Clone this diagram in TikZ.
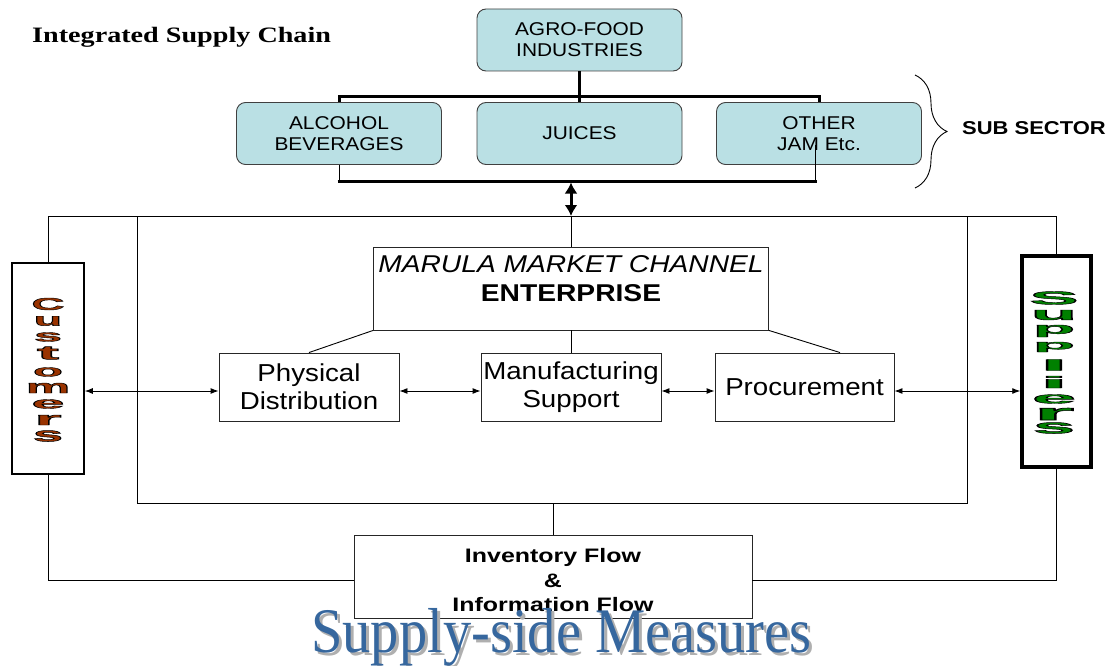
\documentclass[tikz,border=0pt]{standalone}
\usepackage{fontspec}
\setmainfont{Liberation Serif}
\newfontfamily\boxfont{Liberation Sans}[FakeStretch=1.13]
\newfontfamily\subfont{Liberation Sans}[FakeStretch=1.18]
\newfontfamily\mmfont{Liberation Sans}[FakeStretch=1.16]
\newfontfamily\invfont{Liberation Sans}[FakeStretch=1.28]
\newfontfamily\titlefont{Liberation Serif}[FakeStretch=1.28]
\newfontfamily\bigfont{Liberation Serif}[FakeStretch=0.89]
\newfontfamily\letterfont{Liberation Sans Bold}[FakeBold=2.5]
\newcommand\blackstroke{\special{pdf:literal direct 0 0 0 RG}}
\usetikzlibrary{arrows.meta,decorations.pathreplacing}
\definecolor{subfill}{RGB}{186,224,228}
\definecolor{custcol}{RGB}{153,51,0}
\definecolor{supcol}{RGB}{0,128,0}
\definecolor{bigblue}{RGB}{54,103,158}
\definecolor{shadowgray}{RGB}{175,175,175}
\begin{document}
\begin{tikzpicture}[x=1pt,y=-1pt,
  subbox/.style={draw=black!75, fill=subfill, rounded corners=9pt, line width=0.9pt,
    minimum width=205pt, minimum height=62pt, inner sep=0pt, align=center,
    font=\boxfont\fontsize{18.5}{21}\selectfont},
  pbox/.style={draw=black!85, line width=0.9pt, inner sep=0pt, align=center, fill=white},
  tree/.style={line width=3pt},
  conn/.style={line width=0.9pt},
  biarrow/.style={conn, {Latex[length=8pt,width=6pt]}-{Latex[length=8pt,width=6pt]}},
  letter/.style={inner sep=0pt, font=\letterfont\fontsize{20}{20}\selectfont},
  txt/.style={inner sep=0pt, align=center}
]
\useasboundingbox (0,0) rectangle (1113,666);

% title
\node[txt, anchor=base west, font=\titlefont\bfseries\fontsize{22}{24}\selectfont] (title) at (32,43) {Integrated Supply Chain};

% top tree
\node[subbox] (agro) at (579.5,40) {AGRO-FOOD\\INDUSTRIES};
\node[subbox] (alc) at (339,133.5) {ALCOHOL\\BEVERAGES};
\node[subbox] (juice) at (579.5,133.5) {JUICES};
\node[subbox] (oth) at (819,133.5) {OTHER\\JAM Etc.};
\draw[tree] (agro.south) -- (juice.north);
\draw[tree] (alc.north) -- ++(0,-6) -| (oth.north);
\coordinate (bb) at (339,181);
\coordinate (bbr) at (815,181);
\coordinate (othleg) at (815,145);
\draw[conn] (alc.south) -- (bb);
\draw[conn] (othleg) -- (bbr);
\draw[tree] ([xshift=-1.5pt]bb) -- ([xshift=1.5pt]bbr);

% brace
\coordinate (brT) at (915,75);
\coordinate (brB) at (915,188);
\draw[conn, decorate, decoration={brace, amplitude=32pt}] (brT) -- (brB);
\node[txt, anchor=base west, font=\subfont\bfseries\fontsize{18.6}{20}\selectfont] (subsec) at (962,135) {SUB SECTOR};

% double arrow
\coordinate (arTop) at (571,182.5);
\coordinate (arBot) at (571,216);
\draw[line width=3pt, {Latex[length=11pt,width=13pt]}-{Latex[length=11pt,width=13pt]}] (arTop) -- (arBot);

% frame
\node[draw, conn, inner sep=0pt, minimum width=830pt, minimum height=287pt] (frame) at (552,359.5) {};

% side boxes
\node[draw, line width=1.6pt, inner sep=0pt, minimum width=72pt, minimum height=211pt] (cust) at (48,368.5) {};
\node[draw, line width=3.5pt, inner sep=0pt, minimum width=69pt, minimum height=211pt] (sup) at (1056.5,361.5) {};
\draw[conn] (cust.north) |- (arBot) -| (sup.north);

\foreach \l/\w/\h/\y [count=\i] in {C/33/12/304, u/28/9.5/321, s/28/9/337, t/22/13/353, o/30/9/372, m/44/10/388, e/33/9/404, r/27/10/420, s/30/11/436}
  \node[letter, text=custcol] (c\i) at (48,\y) {\resizebox*{\w pt}{\h pt}{\blackstroke\l}};
\foreach \l/\w/\h/\y [count=\i] in {S/49/13/298, u/46/10/315, p/42/12/331, p/42/10/347, l/28/11/365, i/28/12/382, e/44/9/399, r/40/12/414, s/42/11/428}
  \node[letter, text=supcol] (s\i) at (1054,\y) {\resizebox*{\w pt}{\h pt}{\blackstroke\l}};

% enterprise
\node[pbox, minimum width=395pt, minimum height=83pt] (mm) at (571,288.5) {};
\node[txt, font=\mmfont\fontsize{24.3}{29}\selectfont] (mmt) at (571,279) {\itshape MARULA MARKET CHANNEL\\\bfseries ENTERPRISE};
\draw[conn] (arBot) -- (mm.north);

\node[pbox, minimum width=180pt, minimum height=68pt, font=\boxfont\fontsize{24.5}{28}\selectfont] (pd) at (309,387) {Physical\\Distribution};
\node[pbox, minimum width=180pt, minimum height=68pt, font=\boxfont\fontsize{24.5}{28}\selectfont] (ms) at (571,387) {Manufacturing\\Support};
\node[pbox, minimum width=179pt, minimum height=68pt, font=\boxfont\fontsize{24.5}{28}\selectfont] (pr) at (804.5,387) {Procurement};

\draw[conn] (mm.south west) -- (pd.north);
\draw[conn] (mm.south) -- (ms.north);
\draw[conn] (mm.south east) -- ([xshift=35.5pt]pr.north);

\coordinate (rowL) at ([yshift=-4pt]pd.west);
\draw[biarrow] (cust.east |- rowL) -- (rowL);
\draw[biarrow] ([yshift=-4pt]pd.east) -- ([yshift=-4pt]ms.west);
\draw[biarrow] ([yshift=-4pt]ms.east) -- ([yshift=-4pt]pr.west);
\draw[biarrow] ([yshift=-4pt]pr.east) -- (sup.west |- rowL);

% inventory
\node[pbox, minimum width=398pt, minimum height=83pt] (inv) at (553,576.5) {};
\node[txt, font=\invfont\bfseries\fontsize{19.5}{24.5}\selectfont] (invt) at (553,580.5) {Inventory Flow\\\&\\Information Flow};
\draw[conn] (inv.north) -- (inv.north |- frame.south);
\draw[conn] (cust.south) |- ([yshift=-3.5pt]inv.west);
\draw[conn] (sup.south) |- ([yshift=-3.5pt]inv.east);

% big title
\node[txt, anchor=base, text=shadowgray, font=\bigfont\fontsize{63.5}{70}\selectfont] (ssmshadow) at (564.5,655) {Supply-side Measures};
\node[txt, anchor=base, text=bigblue, font=\bigfont\fontsize{63.5}{70}\selectfont] (ssm) at (561.5,652) {Supply-side Measures};
\end{tikzpicture}
\end{document}
